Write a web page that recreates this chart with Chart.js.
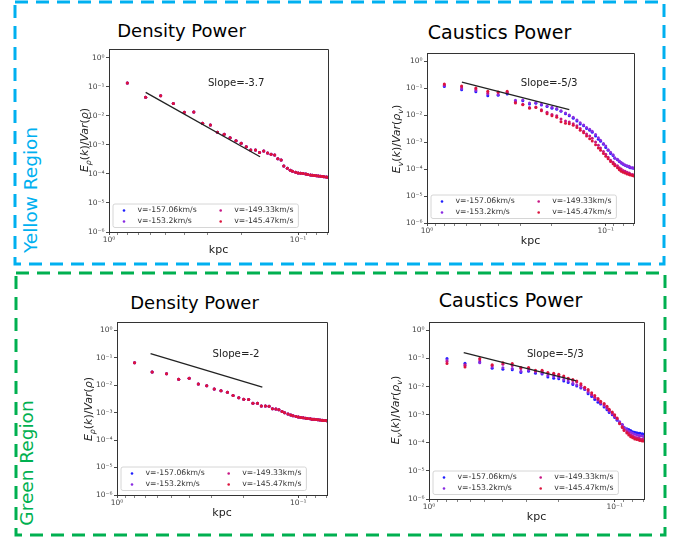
<!DOCTYPE html>
<html>
<head>
<meta charset="utf-8">
<title>Density and caustics power spectra</title>
<script src="https://cdnjs.cloudflare.com/ajax/libs/Chart.js/4.4.1/chart.umd.min.js"></script>
<style>
  html, body { margin: 0; padding: 0; background: #fff; }
  #fig { position: relative; width: 682px; height: 538px; overflow: hidden; font-family: 'DejaVu Sans', sans-serif; }
  #fig canvas, #fig svg { position: absolute; }
  .txt { position: absolute; white-space: nowrap; color: #000; }
  .title { width: 300px; text-align: center; }
  .kpc { font-size: 11px; line-height: 11px; transform: translateX(-50%); color: #222; }
  .ylab { font-size: 11px; line-height: 11px; transform: translate(-50%, -50%) rotate(-90deg); color: #222; }
  .ylab .sub { font-size: 7.7px; position: relative; top: 2.6px; }
  .region { font-size: 18.5px; line-height: 18.5px; transform: translate(-50%, -50%) rotate(-90deg); }
</style>
</head>
<body>
<div id="fig">
  <svg width="682" height="538" style="left:0;top:0">
    <rect x="15" y="2" width="649" height="262" fill="none" stroke="#00b0f0" stroke-width="3" stroke-dasharray="13 8"/>
    <rect x="16" y="273" width="649" height="262" fill="none" stroke="#00b050" stroke-width="3" stroke-dasharray="13 8"/>
  </svg>

  <canvas id="yellow-density" width="261" height="205" style="left:75px;top:41px"></canvas>
  <canvas id="yellow-caustics" width="249" height="192" style="left:393px;top:45px"></canvas>
  <canvas id="green-density" width="252" height="195" style="left:83px;top:314px"></canvas>
  <canvas id="green-caustics" width="257" height="199" style="left:395px;top:314px"></canvas>

  <div class="txt title" style="left:31.5px;top:21.8px;font-size:18px;line-height:18px">Density Power</div>
  <div class="txt title" style="left:349.5px;top:22.9px;font-size:19px;line-height:19px">Caustics Power</div>
  <div class="txt title" style="left:44.5px;top:293.8px;font-size:18px;line-height:18px">Density Power</div>
  <div class="txt title" style="left:360.5px;top:290.9px;font-size:19px;line-height:19px">Caustics Power</div>

  <div class="txt kpc" style="left:218.5px;top:243.7px">kpc</div>
  <div class="txt kpc" style="left:530.5px;top:234.7px">kpc</div>
  <div class="txt kpc" style="left:222px;top:506.7px">kpc</div>
  <div class="txt kpc" style="left:536.5px;top:510.7px">kpc</div>

  <div class="txt ylab" style="left:85px;top:140px"><i>E</i><span class="sub"><i>ρ</i></span>(<i>k</i>)/<i>Var</i>(<i>ρ</i>)</div>
  <div class="txt ylab" style="left:396.5px;top:139px"><i>E</i><span class="sub"><i>v</i></span>(<i>k</i>)/<i>Var</i>(<i>ρ</i><span class="sub"><i>v</i></span>)</div>
  <div class="txt ylab" style="left:89px;top:409px"><i>E</i><span class="sub"><i>ρ</i></span>(<i>k</i>)/<i>Var</i>(<i>ρ</i>)</div>
  <div class="txt ylab" style="left:395.5px;top:410px"><i>E</i><span class="sub"><i>v</i></span>(<i>k</i>)/<i>Var</i>(<i>ρ</i><span class="sub"><i>v</i></span>)</div>

  <div class="txt region" style="left:31px;top:190px;color:#00b0f0">Yellow Region</div>
  <div class="txt region" style="left:27px;top:462.5px;color:#00b050">Green Region</div>
</div>

<script>
// ── Data ─────────────────────────────────────────────────────────────────

// Scale (kpc) of each spectrum point, same for every panel.
var scaleKpc = [0.8, 0.64, 0.533, 0.457, 0.4, 0.356, 0.32, 0.291, 0.267, 0.246,
    0.229, 0.213, 0.2, 0.188, 0.178, 0.168, 0.16, 0.152, 0.145, 0.139,
    0.133, 0.128, 0.123, 0.119, 0.114, 0.11, 0.107, 0.103, 0.1, 0.097,
    0.094, 0.091, 0.089, 0.086, 0.084, 0.082, 0.08, 0.078, 0.076, 0.074,
    0.073, 0.071, 0.0696];

var velocityLabels = ['v=-157.06km/s', 'v=-153.2km/s', 'v=-149.33km/s', 'v=-145.47km/s'];

// Density spectra: the four channels lie on top of each other.
var yellowDensity = [0.134, 0.044, 0.049, 0.0265, 0.0133, 0.0136, 0.0055, 0.0048, 0.0027, 0.0023,
    0.00175, 0.00138, 0.00113, 0.00086, 0.00066, 0.00066, 0.00055, 0.00061, 0.00052, 0.00048,
    0.00045, 0.00033, 0.0003, 0.000187, 0.000156, 0.000135, 0.000123, 0.000113, 0.000108, 0.000106,
    0.000103, 0.000099, 0.000096, 0.000092, 0.00009, 0.000088, 0.000087, 0.000085, 0.000083, 0.000081,
    0.00008, 0.000079, 0.000077];

var greenDensity = [0.066, 0.030, 0.026, 0.0163, 0.0177, 0.011, 0.0096, 0.0072, 0.0063, 0.0055,
    0.0042, 0.0035, 0.0031, 0.003, 0.0022, 0.0022, 0.00174, 0.00174, 0.0017, 0.00139,
    0.00135, 0.00128, 0.0011, 0.001, 0.00089, 0.00082, 0.00077, 0.00073, 0.0007, 0.00067,
    0.00065, 0.00063, 0.00061, 0.0006, 0.00058, 0.00057, 0.00056, 0.00055, 0.00054, 0.00053,
    0.00052, 0.00052, 0.00051];

// Caustics spectra, one list per velocity channel.
var yellowCaustics157 = [0.115, 0.087, 0.074, 0.052, 0.054, 0.06, 0.033, 0.034, 0.026, 0.0275,
    0.0235, 0.021, 0.018, 0.0166, 0.0138, 0.0112, 0.0095, 0.0076, 0.006, 0.0047,
    0.004, 0.0032, 0.00275, 0.0023, 0.00166, 0.00126, 0.00107, 0.00083, 0.00063, 0.0005,
    0.00038, 0.00032, 0.00025, 0.00022, 0.00019, 0.000166, 0.00015, 0.000138, 0.000126, 0.00012,
    0.000112, 0.00011, 0.000107];
var yellowCaustics153 = [0.126, 0.0955, 0.0813, 0.0603, 0.0575, 0.0661, 0.0355, 0.0363, 0.0282, 0.0295,
    0.0251, 0.0219, 0.0195, 0.0174, 0.0145, 0.012, 0.01, 0.0083, 0.0066, 0.0052,
    0.0043, 0.0035, 0.003, 0.0025, 0.0019, 0.00145, 0.00117, 0.00089, 0.00071, 0.00052,
    0.00042, 0.00034, 0.00026, 0.00023, 0.0002, 0.000174, 0.000158, 0.000141, 0.000132, 0.000126,
    0.000117, 0.000112, 0.00011];
var yellowCaustics149 = [0.132, 0.11, 0.093, 0.066, 0.068, 0.069, 0.03, 0.025, 0.019, 0.02,
    0.0158, 0.0126, 0.0105, 0.0095, 0.0071, 0.006, 0.0055, 0.0048, 0.004, 0.0032,
    0.0025, 0.002, 0.00166, 0.00138, 0.001, 0.00076, 0.0006, 0.00045, 0.00035, 0.000275,
    0.000214, 0.000178, 0.000151, 0.000132, 0.000112, 0.0001, 0.000089, 0.000083, 0.000076, 0.000071,
    0.000066, 0.000063, 0.00006];
var yellowCaustics145 = [0.141, 0.12, 0.1, 0.076, 0.072, 0.076, 0.028, 0.024, 0.0178, 0.019,
    0.0145, 0.0112, 0.0095, 0.0083, 0.0056, 0.005, 0.0048, 0.0042, 0.0035, 0.00275,
    0.0022, 0.00166, 0.00132, 0.0011, 0.00079, 0.0006, 0.0005, 0.00038, 0.0003, 0.00024,
    0.00019, 0.000158, 0.000132, 0.000112, 0.000095, 0.000083, 0.000076, 0.000071, 0.000066, 0.000063,
    0.00006, 0.000058, 0.000055];

var greenCaustics157 = [0.1, 0.068, 0.076, 0.045, 0.042, 0.04, 0.032, 0.035, 0.03, 0.028,
    0.022, 0.02, 0.019, 0.0158, 0.0141, 0.012, 0.0105, 0.0089, 0.0079, 0.0056,
    0.0045, 0.0035, 0.0028, 0.0024, 0.0019, 0.0015, 0.0012, 0.001, 0.00079, 0.00063,
    0.00052, 0.00044, 0.00035, 0.00032, 0.0003, 0.000275, 0.00025, 0.00024, 0.00023, 0.00022,
    0.00022, 0.00021, 0.0002];
var greenCaustics153 = [0.089, 0.056, 0.071, 0.05, 0.047, 0.044, 0.035, 0.038, 0.033, 0.03,
    0.025, 0.023, 0.021, 0.0178, 0.0158, 0.0132, 0.0115, 0.0095, 0.0083, 0.0063,
    0.005, 0.004, 0.0032, 0.0026, 0.0021, 0.00166, 0.00132, 0.00107, 0.00087, 0.00069,
    0.00056, 0.00045, 0.00036, 0.0003, 0.00026, 0.00024, 0.00022, 0.0002, 0.00019, 0.000182,
    0.000178, 0.000174, 0.000166];
var greenCaustics149 = [0.079, 0.06, 0.089, 0.056, 0.063, 0.056, 0.044, 0.045, 0.036, 0.035,
    0.03, 0.0275, 0.025, 0.022, 0.019, 0.0166, 0.0145, 0.0112, 0.0089, 0.0071,
    0.0052, 0.0042, 0.0035, 0.00275, 0.0023, 0.0018, 0.00145, 0.00115, 0.00091, 0.00072,
    0.0005, 0.00038, 0.0003, 0.00025, 0.00022, 0.00019, 0.000174, 0.000158, 0.000151, 0.000145,
    0.000138, 0.000135, 0.000132];
var greenCaustics145 = [0.066, 0.05, 0.1, 0.06, 0.071, 0.066, 0.048, 0.048, 0.038, 0.038,
    0.032, 0.03, 0.0275, 0.024, 0.02, 0.0178, 0.0158, 0.0126, 0.0095, 0.0079,
    0.006, 0.0048, 0.0038, 0.003, 0.0025, 0.002, 0.00158, 0.00126, 0.001, 0.00076,
    0.00048, 0.00035, 0.000275, 0.000224, 0.00019, 0.000166, 0.000151, 0.000138, 0.000132, 0.000126,
    0.00012, 0.000117, 0.000115];

// Reference power-law segments: [scale, power] at both ends.
var yellowDensitySlope = [[0.64, 0.064], [0.159, 0.00039]];
var yellowCausticsSlope = [[0.638, 0.165], [0.16, 0.0158]];
var greenDensitySlope = [[0.653, 0.141], [0.158, 0.0085]];
var greenCausticsSlope = [[0.65, 0.162], [0.161, 0.016]];

// Axis ticks.
var yTicks = [1e-6, 1e-5, 1e-4, 1e-3, 1e-2, 1e-1, 1];
var xMajorTicks = [1, 0.1];
var xMinorTicks = [0.9, 0.8, 0.7, 0.6, 0.5, 0.4, 0.3, 0.2, 0.09, 0.08, 0.07];

// ── Styling ──────────────────────────────────────────────────────────────

var velocityColors = ['#1f1fff', '#8a2be2', '#c71585', '#dc143c'];
var FONT = '"DejaVu Sans", sans-serif';

var SUPERS = { '0': '⁰', '1': '¹', '2': '²', '3': '³', '4': '⁴', '5': '⁵', '6': '⁶', '-': '⁻' };

function powerLabel(v) {
    var e = String(Math.round(Math.log10(v)));
    return '10' + e.split('').map(function(c) { return SUPERS[c]; }).join('');
}

function pointsOf(values) {
    return scaleKpc.map(function(x, i) {
        return { x: x, y: values[i] };
    });
}

// ── Plot decorations: spines, slope note, in-axes legend ─────────────────

function drawLegend(chart) {
    var ctx = chart.ctx;
    var ca = chart.chartArea;
    var items = chart.data.datasets.filter(function(ds) { return !ds.showLine; });

    ctx.font = '7.7px ' + FONT;
    var w1 = Math.max(ctx.measureText(items[0].label).width, ctx.measureText(items[1].label).width);
    var w2 = Math.max(ctx.measureText(items[2].label).width, ctx.measureText(items[3].label).width);

    var left = ca.left + 4;
    var bottom = ca.bottom - 4.5;
    var top = bottom - 23.5;
    var text1 = left + 24.5;
    var mark2 = text1 + w1 + 24;
    var text2 = mark2 + 13.5;
    var right = text2 + w2 + 5;

    ctx.fillStyle = 'rgba(255,255,255,0.8)';
    ctx.strokeStyle = '#cccccc';
    ctx.lineWidth = 0.8;
    ctx.beginPath();
    if (ctx.roundRect) {
        ctx.roundRect(left, top, right - left, bottom - top, 2);
    } else {
        ctx.rect(left, top, right - left, bottom - top);
    }
    ctx.fill();
    ctx.stroke();

    ctx.textAlign = 'left';
    ctx.textBaseline = 'middle';
    items.forEach(function(ds, i) {
        var col = Math.floor(i / 2);
        var cy = top + 6.5 + (i % 2) * 11;
        var mx = col ? mark2 : left + 11;
        var tx = col ? text2 : text1;
        ctx.fillStyle = ds.backgroundColor;
        ctx.beginPath();
        ctx.arc(mx, cy, 1.3, 0, Math.PI * 2);
        ctx.fill();
        ctx.fillStyle = '#333';
        ctx.fillText(ds.label, tx, cy);
    });
}

var decorPlugin = {
    id: 'decor',
    afterDraw: function(chart, args, opts) {
        var ctx = chart.ctx;
        var ca = chart.chartArea;
        ctx.save();

        // Top and right spines (left and bottom come from the axes).
        ctx.strokeStyle = '#333';
        ctx.lineWidth = 1;
        ctx.beginPath();
        ctx.moveTo(ca.left, ca.top + 0.5);
        ctx.lineTo(ca.right + 0.5, ca.top + 0.5);
        ctx.lineTo(ca.right + 0.5, ca.bottom);
        ctx.stroke();

        ctx.fillStyle = '#222';
        ctx.font = '10.2px ' + FONT;
        ctx.textAlign = 'left';
        ctx.textBaseline = 'middle';
        ctx.fillText(opts.text,
            chart.scales.x.getPixelForValue(opts.at[0]),
            chart.scales.y.getPixelForValue(opts.at[1]));

        drawLegend(chart);
        ctx.restore();
    }
};

// ── Panels ───────────────────────────────────────────────────────────────

var panels = [
    { canvas: 'yellow-density', text: 'Slope=-3.7', at: [0.30, 0.13], slope: yellowDensitySlope,
      series: [yellowDensity, yellowDensity, yellowDensity, yellowDensity] },
    { canvas: 'yellow-caustics', text: 'Slope=-5/3', at: [0.299, 0.147], slope: yellowCausticsSlope,
      series: [yellowCaustics157, yellowCaustics153, yellowCaustics149, yellowCaustics145] },
    { canvas: 'green-density', text: 'Slope=-2', at: [0.297, 0.138], slope: greenDensitySlope,
      series: [greenDensity, greenDensity, greenDensity, greenDensity] },
    { canvas: 'green-caustics', text: 'Slope=-5/3', at: [0.297, 0.141], slope: greenCausticsSlope,
      series: [greenCaustics157, greenCaustics153, greenCaustics149, greenCaustics145] }
];

function makeChart(panel) {
    var datasets = velocityLabels.map(function(label, i) {
        return {
            label: label,
            data: pointsOf(panel.series[i]),
            backgroundColor: velocityColors[i],
            pointRadius: 1.5,
            pointBorderWidth: 0,
            order: 4 - i
        };
    });
    datasets.push({
        label: 'slope',
        data: panel.slope.map(function(p) { return { x: p[0], y: p[1] }; }),
        showLine: true,
        borderColor: '#222',
        borderWidth: 1.3,
        pointRadius: 0,
        order: 0
    });

    var tickFont = { family: FONT, size: 7.5 };

    return new Chart(document.getElementById(panel.canvas), {
        type: 'scatter',
        data: { datasets: datasets },
        plugins: [decorPlugin],
        options: {
            responsive: false,
            animation: false,
            devicePixelRatio: 1,
            events: [],
            layout: { padding: { left: 0, top: 8, right: 8, bottom: 0 } },
            plugins: {
                legend: { display: false },
                tooltip: { enabled: false },
                decor: { text: panel.text, at: panel.at }
            },
            scales: {
                x: {
                    type: 'logarithmic',
                    reverse: true,
                    min: 0.0695,
                    max: 1,
                    bounds: 'data',
                    afterFit: function(scale) { scale.height = 14; },
                    afterBuildTicks: function(scale) {
                        scale.ticks = xMajorTicks.concat(xMinorTicks).map(function(v) {
                            return { value: v };
                        });
                    },
                    ticks: {
                        autoSkip: false,
                        maxRotation: 0,
                        padding: 1,
                        color: '#444',
                        font: tickFont,
                        callback: function(v) {
                            return xMajorTicks.indexOf(v) >= 0 ? powerLabel(v) : '';
                        }
                    },
                    grid: {
                        drawOnChartArea: false,
                        tickLength: 3,
                        tickColor: '#333',
                        tickWidth: function(ctx) {
                            return ctx.tick && xMajorTicks.indexOf(ctx.tick.value) >= 0 ? 0.9 : 0.6;
                        }
                    },
                    border: { display: true, color: '#333', width: 1 }
                },
                y: {
                    type: 'logarithmic',
                    min: 1e-6,
                    max: 2,
                    bounds: 'data',
                    afterFit: function(scale) { scale.width = 34; },
                    afterBuildTicks: function(scale) {
                        scale.ticks = yTicks.map(function(v) { return { value: v }; });
                    },
                    ticks: {
                        autoSkip: false,
                        padding: 1.5,
                        color: '#444',
                        font: tickFont,
                        callback: function(v) { return powerLabel(v); }
                    },
                    grid: {
                        drawOnChartArea: false,
                        tickLength: 3,
                        tickColor: '#333',
                        tickWidth: 0.9
                    },
                    border: { display: true, color: '#333', width: 1 }
                }
            }
        }
    });
}

Chart.defaults.font.family = FONT;
panels.forEach(makeChart);
</script>
</body>
</html>
